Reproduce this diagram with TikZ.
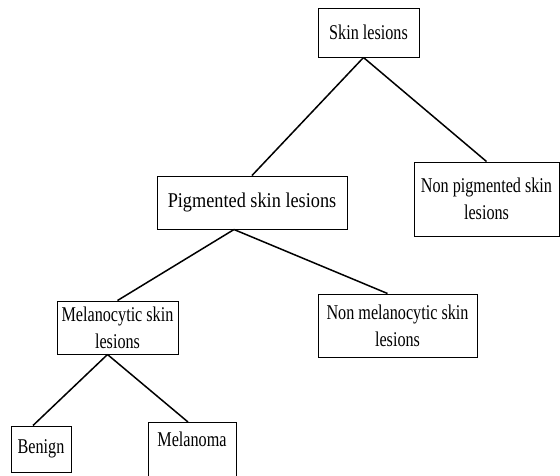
\documentclass[tikz,border=0pt]{standalone}
\usepackage{fontspec}
\setmainfont[FakeStretch=0.77]{Liberation Serif}
\usetikzlibrary{positioning, calc}

\begin{document}
\begin{tikzpicture}[x=1pt, y=-1pt,
    lesion/.style={draw, line width=1pt, align=center, inner sep=0pt,
        font=\fontsize{21}{27}\selectfont},
    link/.style={line width=1.5pt}]
    \useasboundingbox (0,0) rectangle (560,475);
    \clip (0,0) rectangle (560,475);

    % Root
    \node[lesion, minimum width=101pt, minimum height=49pt] (skin) at (368.5,32.5) {Skin lesions};

    % Pigmented or not
    \node[lesion, minimum width=190pt, minimum height=53pt] (pig) at (252,202.5) {\addfontfeature{FakeStretch=0.87}Pigmented skin lesions};
    \node[lesion, minimum width=145pt, minimum height=74pt] (nonpig) at (486.5,199) {Non pigmented skin\\lesions};

    % Melanocytic or not
    \node[lesion, minimum width=121pt, minimum height=53pt] (mel) at (117.5,327.5) {Melanocytic skin\\lesions};
    \node[lesion, minimum width=159pt, minimum height=63pt] (nonmel) at (397.5,325.5) {Non melanocytic skin\\lesions};

    % Leaves
    \node[lesion, minimum width=60pt, minimum height=46pt] (benign) at (41,449) {Benign};
    \node[lesion, minimum width=88pt, anchor=north, text height=24pt, text depth=40pt] (melanoma) at (192,422) {Melanoma};

    % Links
    \draw[link] ([xshift=-5pt]skin.south) -- (pig.north);
    \draw[link] ([xshift=-5pt]skin.south) -- (nonpig.north);
    \draw[link] ([xshift=-18pt]pig.south) -- (mel.north);
    \draw[link] ([xshift=-18pt]pig.south) -- ([xshift=-10pt]nonmel.north);
    \draw[link] ([xshift=-10pt]mel.south) -- ([xshift=-8pt]benign.north);
    \draw[link] ([xshift=-10pt]mel.south) -- ([xshift=-4pt]melanoma.north);
\end{tikzpicture}
\end{document}
